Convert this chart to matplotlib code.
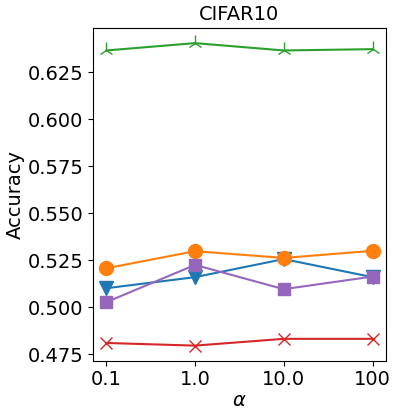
import numpy as np
import matplotlib.pyplot as plt

alphas = ["0.1", "1.0", "10.0", "100"]
acc_blue = [0.5101, 0.5160, 0.5256, 0.5160]
acc_orange = [0.5207, 0.5298, 0.5262, 0.5300]
acc_green = [0.6365, 0.6404, 0.6365, 0.6372]
acc_red = [0.4810, 0.4796, 0.4832, 0.4832]
acc_purple = [0.5027, 0.5225, 0.5096, 0.5163]

plt.rcParams["font.size"] = 14
fig = plt.figure(figsize=(3.99, 4.18), dpi=100)
ax = fig.add_axes([0.233, 0.137, 0.734, 0.796])
x = np.arange(len(alphas))
ax.plot(x, acc_blue, marker="v", ms=10, color="C0")
ax.plot(x, acc_orange, marker="o", ms=10, color="C1")
ax.plot(x, acc_green, marker="2", ms=11, color="C2")
ax.plot(x, acc_red, marker="x", ms=9, color="C3")
ax.plot(x, acc_purple, marker="s", ms=9, color="C4")
ax.set_xticks(x)
ax.set_xticklabels(alphas)
ax.set_xlabel(r"$\alpha$", labelpad=1)
ax.set_ylabel("Accuracy", labelpad=2)
ax.set_title("CIFAR10", fontsize=14)
plt.savefig("out.png", dpi=100)
